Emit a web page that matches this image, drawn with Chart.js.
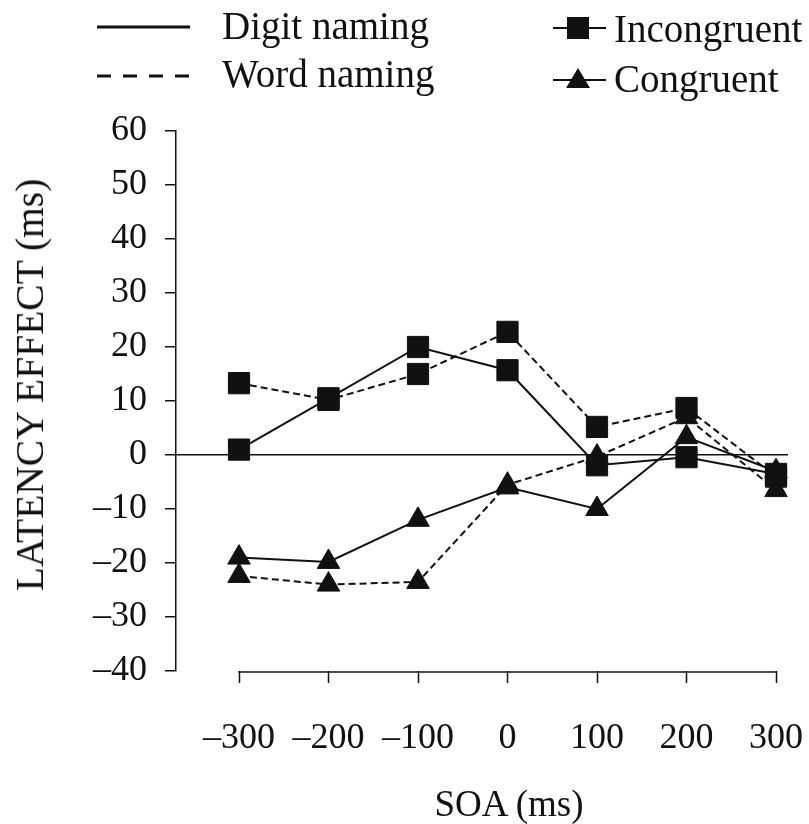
<!DOCTYPE html>
<html><head><meta charset="utf-8">
<script src="https://cdn.jsdelivr.net/npm/chart.js@4.4.1/dist/chart.umd.min.js"></script>
<style>
html,body{margin:0;padding:0;background:#fff;}
#wrap{position:relative;width:809px;height:824px;overflow:hidden;font-family:"Liberation Serif","Times New Roman",serif;color:#111;}
#wrap canvas{position:absolute;left:0;top:0;}
.t{position:absolute;white-space:nowrap;font-size:39px;line-height:40px;}
#ytitle{position:absolute;left:30px;top:385px;width:0;height:0;}
#ytitle span{position:absolute;left:0;top:0;transform:translate(-50%,-50%) rotate(-90deg);white-space:nowrap;font-size:39.5px;line-height:40px;}
#xtitle{position:absolute;left:509px;top:804px;width:0;height:0;}
#xtitle span{position:absolute;left:0;top:0;transform:translate(-50%,-50%);white-space:nowrap;font-size:37px;line-height:40px;}
svg.icon{position:absolute;left:0;top:0;}
</style></head><body>
<div id="wrap">
<canvas id="c" width="809" height="824"></canvas>
<svg class="icon" width="809" height="120">
  <line x1="97" y1="27" x2="190" y2="27" stroke="#111" stroke-width="3"/>
  <line x1="97" y1="76" x2="190" y2="76" stroke="#111" stroke-width="3" stroke-dasharray="14,12"/>
  <line x1="553" y1="28" x2="606" y2="28" stroke="#111" stroke-width="2"/>
  <rect x="567" y="17" width="22" height="22" fill="#111"/>
  <line x1="553" y1="80" x2="606" y2="80" stroke="#111" stroke-width="2"/>
  <polygon points="578,68 590,88 566,88" fill="#111"/>
</svg>
<div class="t" id="lg0" style="left:222px;top:6px"></div>
<div class="t" id="lg1" style="left:222px;top:54px"></div>
<div class="t" id="lg2" style="left:614px;top:9px"></div>
<div class="t" id="lg3" style="left:614px;top:59px"></div>
<div id="ytitle"><span id="yt"></span></div>
<div id="xtitle"><span id="xt"></span></div>
</div>
<script>
// ---- data ----
const soa = [-300, -200, -100, 0, 100, 200, 300];
const digitIncongruent = [1, 10.5, 20, 15.7, -1.9, -0.4, -3.5];
const wordIncongruent  = [13.3, 10.2, 15, 22.8, 5.2, 8.7, -4];
const digitCongruent   = [-19, -19.8, -12, -6, -10, 3.3, -3];
const wordCongruent    = [-22.4, -24, -23.5, -5.5, -0.3, 7, -6.5];
const xTickValues = [-300, -200, -100, 0, 100, 200, 300];
const xTickLabels = ['\u2013300', '\u2013200', '\u2013100', '0', '100', '200', '300'];
const yTickValues = [-40, -30, -20, -10, 0, 10, 20, 30, 40, 50, 60];
const yTickLabels = ['\u201340', '\u201330', '\u201320', '\u201310', '0', '10', '20', '30', '40', '50', '60'];
const taskLabels = ['Digit naming', 'Word naming'];
const conditionLabels = ['Incongruent', 'Congruent'];
const xTitle = 'SOA (ms)';
const yTitle = 'LATENCY EFFECT (ms)';

document.getElementById('lg0').textContent = taskLabels[0];
document.getElementById('lg1').textContent = taskLabels[1];
document.getElementById('lg2').textContent = conditionLabels[0];
document.getElementById('lg3').textContent = conditionLabels[1];
document.getElementById('xt').textContent = xTitle;
document.getElementById('yt').textContent = yTitle;

const INK = '#111';
const toPts = arr => soa.map((x, i) => ({x: x, y: arr[i]}));
function ds(label, arr, dashed, style, r) {
  return {
    label: label, data: toPts(arr),
    borderColor: INK, backgroundColor: INK,
    borderWidth: 2, borderDash: dashed ? [7, 4] : [],
    pointStyle: style, pointRadius: r, pointHoverRadius: r,
    pointBackgroundColor: INK, pointBorderColor: INK, pointBorderWidth: 1,
    tension: 0, fill: false
  };
}

const xAxisLine = {
  id: 'xAxisLine',
  afterDraw(chart) {
    const xs = chart.scales.x, ca = chart.chartArea, ctx = chart.ctx;
    ctx.save();
    ctx.strokeStyle = INK; ctx.lineWidth = 1.5;
    ctx.beginPath();
    ctx.moveTo(xs.getPixelForValue(xTickValues[0]) - 0.75, ca.bottom + 1);
    ctx.lineTo(xs.getPixelForValue(xTickValues[xTickValues.length - 1]) + 0.75, ca.bottom + 1);
    ctx.stroke();
    ctx.restore();
  }
};

new Chart(document.getElementById('c'), {
  type: 'line',
  data: {
    datasets: [
      ds(taskLabels[0] + ' ' + conditionLabels[0], digitIncongruent, false, 'rect', 15),
      ds(taskLabels[1] + ' ' + conditionLabels[0], wordIncongruent, true, 'rect', 15),
      ds(taskLabels[0] + ' ' + conditionLabels[1], digitCongruent, false, 'triangle', 13),
      ds(taskLabels[1] + ' ' + conditionLabels[1], wordCongruent, true, 'triangle', 13)
    ]
  },
  options: {
    responsive: false, animation: false,
    layout: {padding: {left: 0, top: 131, right: 21, bottom: 0}},
    plugins: {legend: {display: false}, tooltip: {enabled: false}},
    scales: {
      x: {
        type: 'linear', min: -370.4, max: 313.4,
        afterBuildTicks: s => { s.ticks = xTickValues.map(v => ({value: v})); },
        afterFit: s => { s.height = 153; s.paddingLeft = 0; s.paddingRight = 0; },
        border: {display: false},
        grid: {drawOnChartArea: false, drawTicks: true, tickLength: 12, tickColor: INK, tickWidth: 1.5},
        ticks: {
          padding: 34, color: INK, maxRotation: 0, autoSkip: false,
          font: {family: '"Liberation Serif", serif', size: 36},
          callback: (v, i) => xTickLabels[i]
        }
      },
      y: {
        type: 'linear', min: -40, max: 60,
        afterBuildTicks: s => { s.ticks = yTickValues.map(v => ({value: v})); },
        afterFit: s => { s.width = 176; },
        border: {display: true, color: INK, width: 1.5},
        grid: {
          drawOnChartArea: true, drawTicks: true, tickLength: 11, tickColor: INK, tickWidth: 1.5,
          color: c => (c.tick && c.tick.value === 0) ? INK : 'rgba(0,0,0,0)',
          lineWidth: 1.5
        },
        ticks: {
          padding: 18, color: INK, autoSkip: false,
          font: {family: '"Liberation Serif", serif', size: 36},
          callback: (v, i) => yTickLabels[i]
        }
      }
    }
  },
  plugins: [xAxisLine]
});
</script>
</body></html>
